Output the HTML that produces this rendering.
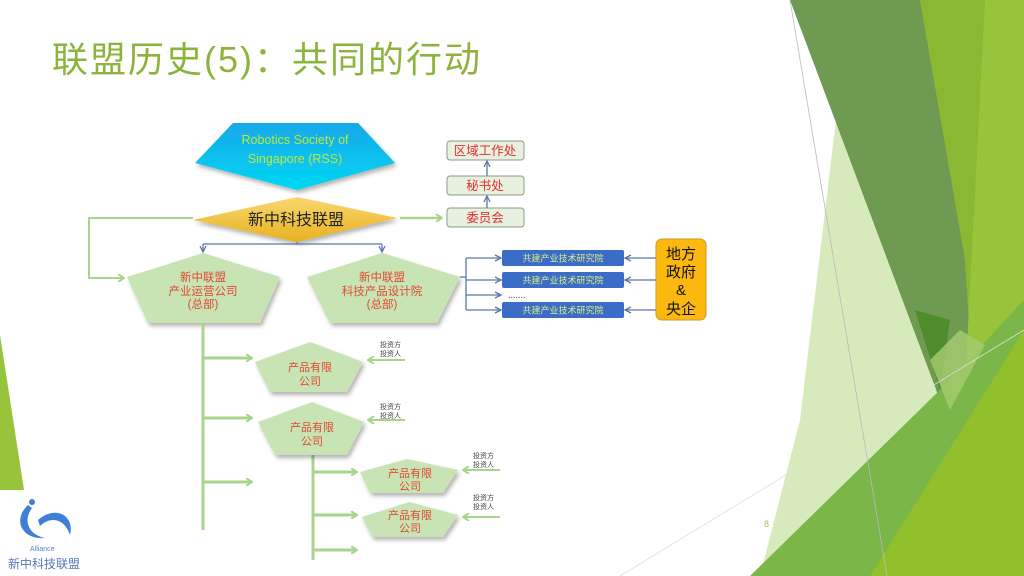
<!DOCTYPE html>
<html><head><meta charset="utf-8"><style>
body{margin:0;width:1024px;height:576px;overflow:hidden;background:#fff;font-family:"Liberation Sans","Noto Sans CJK SC",sans-serif;}
svg{position:absolute;left:0;top:0}
</style></head><body>
<svg width="1024" height="576" viewBox="0 0 1024 576" font-family="Liberation Sans, Noto Sans CJK SC, sans-serif">
<defs>
<linearGradient id="cy" x1="0" y1="0" x2="0" y2="1"><stop offset="0" stop-color="#16a8e8"/><stop offset="1" stop-color="#00d8f4"/></linearGradient>
<linearGradient id="gd" x1="0" y1="0" x2="0" y2="1"><stop offset="0" stop-color="#f8d870"/><stop offset="1" stop-color="#e8b020"/></linearGradient>
<marker id="ag" markerWidth="8" markerHeight="8" refX="7" refY="4" orient="auto" markerUnits="userSpaceOnUse"><path d="M1,0 L7,4 L1,8" fill="none" stroke="#a8d58a" stroke-width="2"/></marker>
<marker id="ab" markerWidth="8" markerHeight="8" refX="7" refY="4" orient="auto" markerUnits="userSpaceOnUse"><path d="M1,1 L7,4 L1,7" fill="none" stroke="#5a78a8" stroke-width="1.3"/></marker>
<filter id="sh"><feDropShadow dx="2" dy="3" stdDeviation="2" flood-color="#000" flood-opacity="0.3"/></filter>
</defs>
<!-- right background -->
<polygon points="836,120 945,400 820,576 760,576 800,420" fill="#d6eabc"/>
<polygon points="790,0 925,0 985,340 940,400" fill="#6f9a52"/>
<polygon points="920,0 1024,0 1024,576 985,576 965,260" fill="#8ab832"/>
<polygon points="985,0 1024,0 1024,576 955,576" fill="#97c43b"/>
<polygon points="915,310 950,320 940,390" fill="#4e8c2c"/>
<polygon points="750,576 945,385 1024,300 1024,576" fill="#7ab648"/>
<polygon points="870,576 1024,330 1024,576" fill="#92c02c"/>
<polygon points="930,360 960,330 985,345 950,410" fill="#a6cd70" opacity="0.8"/>
<line x1="790" y1="0" x2="887" y2="576" stroke="#bbb" stroke-width="0.8"/>
<line x1="620" y1="576" x2="1024" y2="330" stroke="#ddd" stroke-width="0.8"/>
<!-- left sliver -->
<polygon points="0,335 24,490 0,490" fill="#97c43b"/>
<!-- title -->
<text x="52" y="72" font-size="36" fill="#8cb43c" letter-spacing="2">联盟历史(5)：共同的行动</text>
<text x="764" y="527" font-size="9" fill="#9cc060">8</text>
<!-- logo -->
<path d="M28,505 C12,520 22,540 45,538 C30,535 22,522 32,508 Z" fill="#3f7fd8"/>
<path d="M38,520 C55,505 75,515 70,535 C65,520 52,515 40,526 Z" fill="#3f7fd8"/>
<circle cx="32" cy="502" r="3" fill="#3f7fd8"/>
<text x="30" y="551" font-size="7" fill="#5a80c8">Alliance</text>
<text x="8" y="568" font-size="12" fill="#5577bb">新中科技联盟</text>
<!-- RSS -->
<polygon points="233,123 358,123 395,163 297,190 195,163" fill="url(#cy)" filter="url(#sh)"/>
<text x="295" y="144" font-size="12.5" fill="#c0e838" text-anchor="middle">Robotics Society of</text>
<text x="295" y="163" font-size="12.5" fill="#c0e838" text-anchor="middle">Singapore (RSS)</text>
<!-- diamond -->
<polygon points="297,197 397,218 297,242 193,220" fill="url(#gd)" filter="url(#sh)"/>
<text x="296" y="225" font-size="16" fill="#222" text-anchor="middle">新中科技联盟</text>
<!-- lines -->
<path d="M400,218 L442,218" stroke="#a8d58a" stroke-width="2.5" fill="none" marker-end="url(#ag)"/>
<path d="M193,218 L89,218 L89,278 L124,278" stroke="#a8d58a" stroke-width="2" fill="none" marker-end="url(#ag)"/>
<path d="M297,242 L297,244 M203,244 L382,244" stroke="#5a78a8" stroke-width="1.3" fill="none"/>
<path d="M203,244 L203,252" stroke="#5a78a8" stroke-width="1.3" marker-end="url(#ab)"/>
<path d="M382,244 L382,252" stroke="#5a78a8" stroke-width="1.3" marker-end="url(#ab)"/>
<!-- big pentagons -->
<g filter="url(#sh)" fill="#c9e4b4">
<polygon points="203,253 280,277 260,323 148,323 127,277"/>
<polygon points="382,253 460,277 437,323 330,323 307,277"/>
</g>
<g font-size="11.5" fill="#e04830" text-anchor="middle">
<text x="203" y="281">新中联盟</text><text x="203" y="295">产业运营公司</text><text x="203" y="308">(总部)</text>
<text x="382" y="281">新中联盟</text><text x="382" y="295">科技产品设计院</text><text x="382" y="308">(总部)</text>
</g>
<!-- right column boxes -->
<g fill="#e8f0e0" stroke="#8a9a8a" stroke-width="1">
<rect x="447" y="141" width="77" height="19" rx="3"/>
<rect x="447" y="176" width="77" height="19" rx="3"/>
<rect x="447" y="208" width="77" height="19" rx="3"/>
</g>
<g font-size="12.5" fill="#e03030" text-anchor="middle">
<text x="485" y="155">区域工作处</text><text x="485" y="190">秘书处</text><text x="485" y="222">委员会</text>
</g>
<path d="M487,208 L487,196" stroke="#5a78a8" stroke-width="1.3" marker-end="url(#ab)"/>
<path d="M487,176 L487,161" stroke="#5a78a8" stroke-width="1.3" marker-end="url(#ab)"/>
<!-- blue boxes -->
<path d="M460,277 L466,277 M466,258 L466,310" stroke="#5a78a8" stroke-width="1.3" fill="none"/>
<path d="M466,258 L501,258" stroke="#5a78a8" stroke-width="1.3" marker-end="url(#ab)"/>
<path d="M466,280 L501,280" stroke="#5a78a8" stroke-width="1.3" marker-end="url(#ab)"/>
<path d="M466,295 L501,295" stroke="#5a78a8" stroke-width="1.3" marker-end="url(#ab)"/>
<path d="M466,310 L501,310" stroke="#5a78a8" stroke-width="1.3" marker-end="url(#ab)"/>
<g fill="#3a6cc8">
<rect x="502" y="250" width="122" height="16" rx="2"/>
<rect x="502" y="272" width="122" height="16" rx="2"/>
<rect x="502" y="302" width="122" height="16" rx="2"/>
</g>
<g font-size="9" fill="#d8f080" text-anchor="middle">
<text x="563" y="261.5">共建产业技术研究院</text><text x="563" y="283.5">共建产业技术研究院</text><text x="563" y="313.5">共建产业技术研究院</text>
</g>
<text x="508" y="298" font-size="9" fill="#333">.......</text>
<rect x="656" y="239" width="50" height="81" rx="6" fill="#fbb80f" stroke="#c89a20"/>
<g font-size="15" fill="#111" text-anchor="middle">
<text x="681" y="259">地方</text><text x="681" y="277">政府</text><text x="681" y="295">&amp;</text><text x="681" y="314">央企</text>
</g>
<path d="M656,258 L625,258" stroke="#5a78a8" stroke-width="1.3" marker-end="url(#ab)"/>
<path d="M656,280 L625,280" stroke="#5a78a8" stroke-width="1.3" marker-end="url(#ab)"/>
<path d="M656,310 L625,310" stroke="#5a78a8" stroke-width="1.3" marker-end="url(#ab)"/>
<!-- tree -->
<g stroke="#a8d58a" stroke-width="3" fill="none">
<path d="M203,323 L203,530"/>
<path d="M203,358 L252,358" marker-end="url(#ag)"/>
<path d="M203,418 L252,418" marker-end="url(#ag)"/>
<path d="M203,482 L252,482" marker-end="url(#ag)"/>
<path d="M313,455 L313,560"/>
<path d="M313,472 L357,472" marker-end="url(#ag)"/>
<path d="M313,515 L357,515" marker-end="url(#ag)"/>
<path d="M313,550 L357,550" marker-end="url(#ag)"/>
</g>
<g stroke="#a8d58a" stroke-width="2" fill="none">
<path d="M405,360 L368,360" marker-end="url(#ag)"/>
<path d="M405,420 L368,420" marker-end="url(#ag)"/>
<path d="M500,470 L463,470" marker-end="url(#ag)"/>
<path d="M500,517 L463,517" marker-end="url(#ag)"/>
</g>
<g filter="url(#sh)" fill="#c9e4b4">
<polygon points="310,342 363,362 347,392 270,392 255,362"/>
<polygon points="312,402 364,422 347,455 275,455 258,422"/>
<polygon points="407,459 458,470 443,493 370,493 360,472"/>
<polygon points="409,502 458,515 443,537 372,537 362,517"/>
</g>
<g font-size="11" fill="#e04830" text-anchor="middle">
<text x="310" y="371">产品有限</text><text x="310" y="385">公司</text>
<text x="312" y="431">产品有限</text><text x="312" y="445">公司</text>
<text x="410" y="477">产品有限</text><text x="410" y="490">公司</text>
<text x="410" y="519">产品有限</text><text x="410" y="532">公司</text>
</g>
<g font-size="7" fill="#444">
<text x="380" y="347">投资方</text><text x="380" y="356">投资人</text>
<text x="380" y="409">投资方</text><text x="380" y="418">投资人</text>
<text x="473" y="458">投资方</text><text x="473" y="467">投资人</text>
<text x="473" y="500">投资方</text><text x="473" y="509">投资人</text>
</g>
</svg>
</body></html>
